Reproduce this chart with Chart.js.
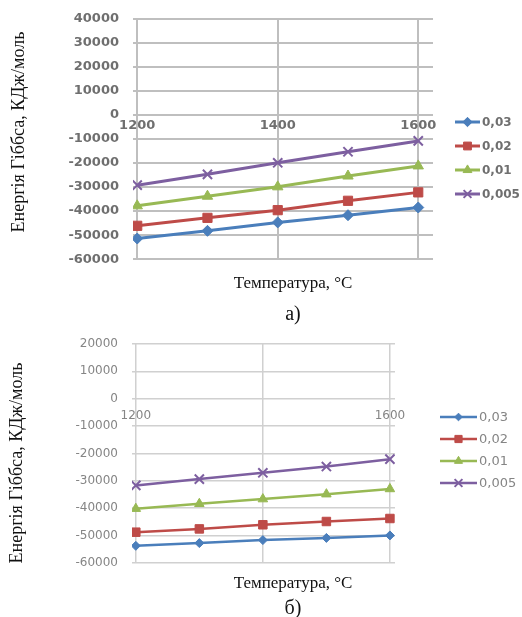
<!DOCTYPE html>
<html>
<head>
<meta charset="utf-8">
<script src="https://cdn.jsdelivr.net/npm/chart.js@4/dist/chart.umd.min.js"></script>
<style>
  html, body { margin: 0; padding: 0; background: #fff; }
  body { width: 522px; height: 617px; position: relative; overflow: hidden; font-family: "Liberation Serif", serif; color: #111; }
  .box { position: absolute; left: 0; width: 522px; }
  .ytitle { position: absolute; font-size: 18px; white-space: nowrap; transform: translate(-50%, -50%) rotate(-90deg); }
  .xtitle { position: absolute; font-size: 17px; white-space: nowrap; transform: translate(-50%, -50%); }
  .cap { position: absolute; font-size: 20px; transform: translate(-50%, -50%); }
</style>
</head>
<body>
<div class="box" style="top:-3px;height:284px"><canvas id="chartA"></canvas></div>
<div class="box" style="top:320px;height:264px"><canvas id="chartB"></canvas></div>

<div class="ytitle" style="left:18px;top:132px">Енергія Гіббса, КДж/моль</div>
<div class="xtitle" style="left:293px;top:283px">Температура, °C</div>
<div class="cap" style="left:293px;top:313px">а)</div>

<div class="ytitle" style="left:16px;top:463px">Енергія Гіббса, КДж/моль</div>
<div class="xtitle" style="left:293px;top:583px">Температура, °C</div>
<div class="cap" style="left:293px;top:607px">б)</div>

<script>
// temperatures, °C
var temps = [1200, 1300, 1400, 1500, 1600];
var seriesNames = ['0,03', '0,02', '0,01', '0,005'];
var xTicks = [1200, 1400, 1600];

// chart а) values
var a003 = [-51400, -48200, -44700, -41700, -38500];
var a002 = [-46100, -42800, -39600, -35700, -32200];
var a001 = [-37800, -33800, -29900, -25400, -21200];
var a0005 = [-29200, -24700, -19900, -15300, -10800];

// chart б)
var b003 = [-53800, -52800, -51700, -50900, -50000];
var b002 = [-48800, -47600, -46100, -44900, -43800];
var b001 = [-40200, -38400, -36700, -34900, -33000];
var b0005 = [-31700, -29400, -27100, -24800, -22100];

var colors = ['#4a7ebb', '#be4b48', '#98b954', '#7d5fa0'];
var shapes = ['rectRot', 'rect', 'triangle', 'crossRot'];

function pts(vals){ return vals.map(function(v, i){ return { x: temps[i], y: v }; }); }

function makeDatasets(list, big){
  return list.map(function(vals, i){
    var r = big ? [5.5, 6.5, 6, 6.5][i] : [4.5, 6, 5.5, 6.5][i];
    return {
      label: seriesNames[i], data: pts(vals),
      borderColor: colors[i], backgroundColor: colors[i],
      borderWidth: big ? 3 : 2.5,
      pointStyle: shapes[i], pointRadius: r, pointBorderWidth: shapes[i] === 'crossRot' ? 2 : 1,
      tension: 0
    };
  });
}

// legend drawn at fixed spot to the right of the plot
var sideLegend = {
  id: 'sideLegend',
  afterDraw: function(chart, args, o){
    var ctx = chart.ctx;
    var top = chart.canvas.getBoundingClientRect().top;
    chart.data.datasets.forEach(function(ds, i){
      var y = o.y - top + i * o.gap;
      ctx.save();
      ctx.strokeStyle = ds.borderColor; ctx.lineWidth = ds.borderWidth;
      ctx.beginPath(); ctx.moveTo(o.x, y); ctx.lineTo(o.x + o.len, y); ctx.stroke();
      ctx.fillStyle = ds.backgroundColor; ctx.lineWidth = ds.pointBorderWidth;
      Chart.helpers.drawPoint(ctx, { pointStyle: ds.pointStyle, radius: ds.pointRadius * 0.85, borderWidth: ds.pointBorderWidth }, o.x + o.len / 2, y);
      ctx.fillStyle = o.color; ctx.font = o.font; ctx.textBaseline = 'middle';
      ctx.fillText(ds.label, o.x + o.len + 2, y + 1);
      ctx.restore();
    });
  }
};

function build(id, cfg){
  return new Chart(document.getElementById(id), {
    type: 'line',
    data: { datasets: cfg.datasets },
    plugins: [sideLegend],
    options: {
      responsive: true, maintainAspectRatio: false, animation: false,
      layout: { padding: cfg.padding },
      plugins: {
        legend: { display: false }, tooltip: { enabled: false },
        sideLegend: cfg.legend
      },
      scales: {
        x: {
          type: 'linear', min: cfg.xmin, max: cfg.xmax,
          position: { y: 0 },
          afterBuildTicks: function(s){ s.ticks = xTicks.map(function(v){ return { value: v }; }); },
          afterFit: function(s){ s.height = 0; },
          border: { display: false },
          grid: { color: cfg.grid, lineWidth: cfg.gridW, drawTicks: false },
          ticks: {
            padding: cfg.xPad, color: cfg.tickColor, font: cfg.tickFont, maxRotation: 0,
            callback: function(v){ return cfg.xShow.indexOf(v) >= 0 ? String(v) : ''; }
          }
        },
        y: {
          min: -60000, max: cfg.ymax,
          afterFit: function(s){ s.width = cfg.yWidth; },
          border: { display: false },
          grid: { color: cfg.grid, lineWidth: cfg.gridW, drawTicks: false },
          ticks: { stepSize: 10000, padding: cfg.yPad, color: cfg.tickColor, font: cfg.tickFont,
                   callback: function(v){ return String(v); } }
        }
      }
    }
  });
}

// legend y values are page coordinates
build('chartA', {
  datasets: makeDatasets([a003, a002, a001, a0005], true),
  padding: { left: 0, right: 89, top: 14, bottom: 12 },
  xmin: 1194, xmax: 1621, ymax: 40000,
  yWidth: 133, yPad: 14, xPad: 3,
  xShow: [1200, 1400, 1600],
  grid: '#bfbfbf', gridW: 2,
  tickColor: '#6f6f6f', tickFont: { family: 'DejaVu Sans', size: 13, weight: 'bold' },
  legend: { x: 455, y: 122, gap: 24, len: 25, color: '#6f6f6f', font: 'bold 12px "DejaVu Sans"' }
});

build('chartB', {
  datasets: makeDatasets([b003, b002, b001, b0005], false),
  padding: { left: 0, right: 127, top: 24, bottom: 15 },
  xmin: 1194, xmax: 1608, ymax: 20000,
  yWidth: 132, yPad: 14, xPad: 10,
  xShow: [1200, 1600],
  grid: '#d0d0d0', gridW: 1.5,
  tickColor: '#858585', tickFont: { family: 'DejaVu Sans', size: 12 },
  legend: { x: 440, y: 417, gap: 22, len: 37, color: '#858585', font: '13px "DejaVu Sans"' }
});
</script>
</body>
</html>
